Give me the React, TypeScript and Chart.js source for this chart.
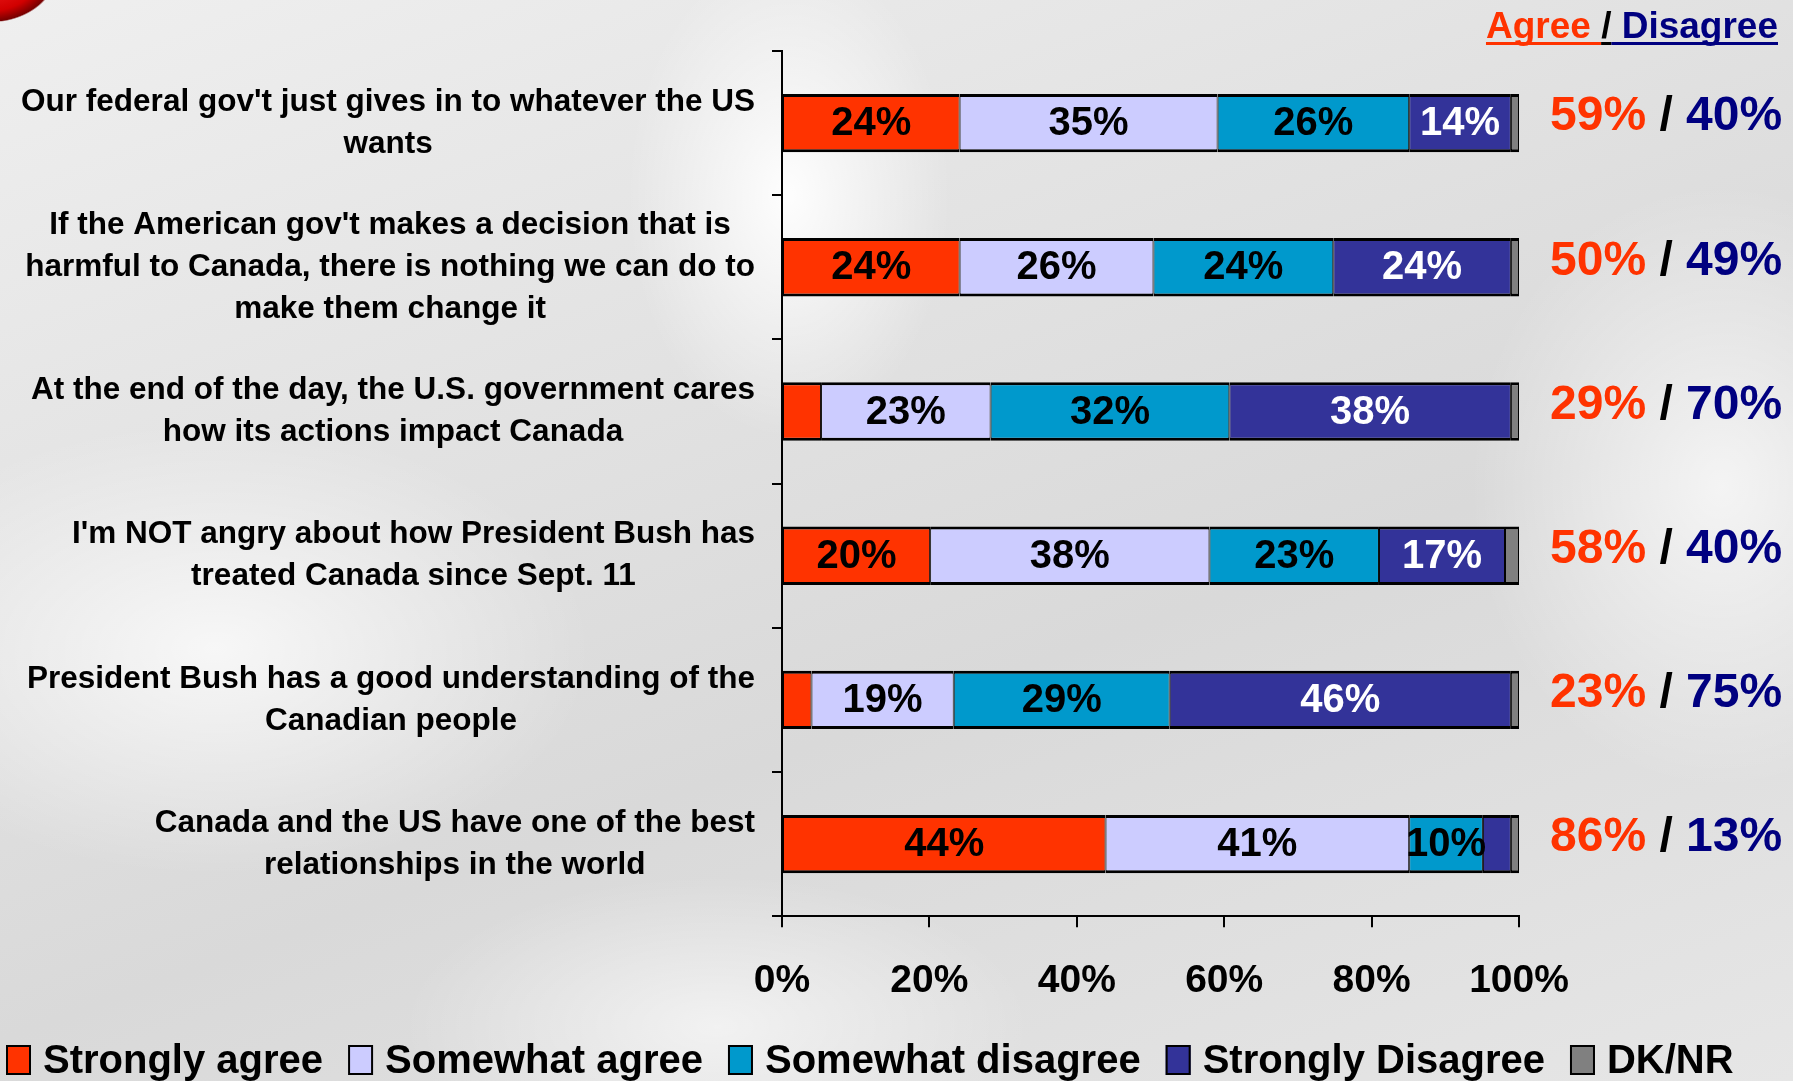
import React, { useEffect, useRef } from "react";
import { Chart, registerables } from "chart.js";

Chart.register(...registerables);

const FONT = "'Liberation Sans', Arial, Helvetica, sans-serif";

// ---------- DATA ----------
const categoryLines: string[][] = [
  ["Our federal gov't just gives in to whatever the US", "wants"],
  [
    "If the American gov't makes a decision that is",
    "harmful to Canada, there is nothing we can do to",
    "make them change it",
  ],
  ["At the end of the day, the U.S. government cares", "how its actions impact Canada"],
  ["I'm NOT angry about how President Bush has", "treated Canada since Sept. 11"],
  ["President Bush has a good understanding of the", "Canadian people"],
  ["Canada and the US have one of the best", "relationships in the world"],
];

const seriesNames = [
  "Strongly agree",
  "Somewhat agree",
  "Somewhat disagree",
  "Strongly Disagree",
  "DK/NR",
];

const stronglyAgree = [24.1, 24.1, 5.3, 20.1, 4.0, 43.9];
const somewhatAgree = [35.0, 26.3, 23.0, 37.9, 19.3, 41.2];
const somewhatDisagree = [26.0, 24.4, 32.4, 23.0, 29.3, 10.0];
const stronglyDisagree = [13.8, 24.1, 38.2, 17.1, 46.3, 3.8];
const dkNr = [1.1, 1.1, 1.1, 1.9, 1.1, 1.1];

const agreeTotals = [59, 50, 29, 58, 23, 86];
const disagreeTotals = [40, 49, 70, 40, 75, 13];

const xTickValues = [0, 20, 40, 60, 80, 100];

const titleParts = ["Agree ", "/", " Disagree"];

// ---------- STYLE ----------
const seriesColors = ["#FF3300", "#CCCCFF", "#0099CC", "#333399", "#808080"];
const segLabelColors = ["#000000", "#000000", "#000000", "#FFFFFF", "#000000"];
const AGREE_COLOR = "#FF3300";
const DISAGREE_COLOR = "#000080";
const W = 1793;
const H = 1081;

const overlayPlugin = {
  id: "overlay",
  afterDatasetsDraw(chart: any) {
    const ctx: CanvasRenderingContext2D = chart.ctx;
    ctx.save();
    ctx.font = `bold 40px ${FONT}`;
    ctx.textAlign = "center";
    ctx.textBaseline = "middle";
    chart.data.datasets.forEach((ds: any, di: number) => {
      const meta = chart.getDatasetMeta(di);
      meta.data.forEach((bar: any, i: number) => {
        const v = ds.data[i];
        if (v < 8) return;
        const cx = (bar.x + bar.base) / 2;
        ctx.fillStyle = segLabelColors[di];
        ctx.fillText(Math.round(v) + "%", cx, bar.y + 1);
      });
    });
    ctx.restore();
  },
  afterDraw(chart: any) {
    const ctx: CanvasRenderingContext2D = chart.ctx;
    const area = chart.chartArea;
    const yScale = chart.scales.y;
    ctx.save();

    // category labels (each label centred on itself, right edge near axis)
    ctx.font = `bold 31.5px ${FONT}`;
    ctx.fillStyle = "#000";
    ctx.textAlign = "center";
    ctx.textBaseline = "middle";
    const lh = 42;
    categoryLines.forEach((lines, i) => {
      const yc = yScale.getPixelForValue(i);
      const maxW = Math.max(...lines.map((l) => ctx.measureText(l).width));
      const cx = area.left - 27 - maxW / 2;
      const y0 = yc - ((lines.length - 1) * lh) / 2;
      lines.forEach((l, k) => ctx.fillText(l, cx, y0 + k * lh));
    });

    // agree / disagree totals
    ctx.font = `bold 48px ${FONT}`;
    ctx.textAlign = "left";
    ctx.textBaseline = "middle";
    categoryLines.forEach((_, i) => {
      const yc = yScale.getPixelForValue(i) - 6;
      let x = area.right + 31;
      const a = agreeTotals[i] + "%";
      const s = " / ";
      const d = disagreeTotals[i] + "%";
      ctx.fillStyle = AGREE_COLOR;
      ctx.fillText(a, x, yc);
      x += ctx.measureText(a).width;
      ctx.fillStyle = "#000";
      ctx.fillText(s, x, yc);
      x += ctx.measureText(s).width;
      ctx.fillStyle = DISAGREE_COLOR;
      ctx.fillText(d, x, yc);
    });

    // title "Agree / Disagree" underlined, right aligned
    ctx.font = `bold 37px ${FONT}`;
    ctx.textBaseline = "alphabetic";
    ctx.textAlign = "left";
    const tColors = [AGREE_COLOR, "#000", DISAGREE_COLOR];
    const widths = titleParts.map((p) => ctx.measureText(p).width);
    const total = widths.reduce((a, b) => a + b, 0);
    let tx = 1778 - total;
    const base = 38;
    titleParts.forEach((p, k) => {
      ctx.fillStyle = tColors[k];
      ctx.fillText(p, tx, base);
      ctx.fillRect(tx, base + 4, widths[k], 3);
      tx += widths[k];
    });

    // legend
    ctx.font = `bold 40px ${FONT}`;
    ctx.textBaseline = "alphabetic";
    let lx = 6;
    const boxTop = 1045;
    seriesNames.forEach((name, k) => {
      ctx.fillStyle = seriesColors[k];
      ctx.fillRect(lx, boxTop, 25, 30);
      ctx.strokeStyle = "#000";
      ctx.lineWidth = 2;
      ctx.strokeRect(lx + 1, boxTop + 1, 23, 28);
      ctx.fillStyle = "#000";
      const tStart = lx + 37;
      ctx.fillText(name, tStart, 1073);
      lx = tStart + ctx.measureText(name).width + 25;
    });

    ctx.restore();
  },
};

export default function App() {
  const ref = useRef<HTMLCanvasElement | null>(null);

  useEffect(() => {
    if (!ref.current) return;
    const seriesValues = [stronglyAgree, somewhatAgree, somewhatDisagree, stronglyDisagree, dkNr];
    const chart = new Chart(ref.current, {
      type: "bar",
      data: {
        labels: categoryLines.map((l) => l.join(" ")),
        datasets: seriesNames.map((name, k) => ({
          label: name,
          data: seriesValues[k],
          backgroundColor: seriesColors[k],
          borderColor: "#000",
          borderWidth: { top: 3, bottom: 3, left: 1, right: 1 },
          borderSkipped: false,
          barPercentage: 0.405,
          categoryPercentage: 1,
        })),
      },
      options: {
        indexAxis: "y",
        responsive: false,
        maintainAspectRatio: false,
        animation: false,
        events: [],
        layout: { padding: { left: 772, right: 274, top: 51, bottom: 45 } },
        plugins: {
          legend: { display: false },
          tooltip: { enabled: false },
          title: { display: false },
        },
        scales: {
          x: {
            stacked: true,
            min: 0,
            max: 100,
            afterBuildTicks: (s: any) => {
              s.ticks = xTickValues.map((v) => ({ value: v }));
            },
            ticks: {
              callback: (v: any) => v + "%",
              font: { family: FONT, size: 39, weight: "bold" },
              color: "#000",
              padding: 31,
              maxRotation: 0,
              autoSkip: false,
            },
            grid: {
              drawOnChartArea: false,
              drawTicks: true,
              tickLength: 11,
              color: "#000",
              lineWidth: 2,
            },
            border: { display: true, color: "#000", width: 2 },
          },
          y: {
            stacked: true,
            offset: true,
            ticks: { display: false },
            grid: {
              offset: true,
              drawOnChartArea: false,
              drawTicks: true,
              tickLength: 10,
              color: "#000",
              lineWidth: 2,
            },
            border: { display: true, color: "#000", width: 2 },
          },
        },
      },
      plugins: [overlayPlugin],
    } as any);
    return () => chart.destroy();
  }, []);

  return (
    <div
      style={{
        position: "fixed",
        left: 0,
        top: 0,
        width: W,
        height: H,
        overflow: "hidden",
        background:
          "radial-gradient(ellipse 12% 30% at 44% 18%, rgba(255,255,255,0.95), rgba(255,255,255,0) 75%)," +
          "radial-gradient(ellipse 30% 30% at 12% 60%, rgba(255,255,255,0.75), rgba(255,255,255,0) 70%)," +
          "radial-gradient(ellipse 20% 40% at 96% 45%, rgba(255,255,255,0.7), rgba(255,255,255,0) 70%)," +
          "radial-gradient(ellipse 25% 20% at 40% 95%, rgba(255,255,255,0.6), rgba(255,255,255,0) 70%)," +
          "linear-gradient(160deg, #efefef 0%, #e2e2e2 35%, #d9d9d9 60%, #e6e6e6 100%)",
      }}
    >
      <div
        style={{
          position: "absolute",
          left: -40,
          top: -48,
          width: 95,
          height: 70,
          borderRadius: "50%",
          background: "radial-gradient(ellipse at 30% 30%, #ff2a2a 0%, #d10000 55%, #700 70%, rgba(0,0,0,0) 72%)",
        }}
      />
      <canvas ref={ref} width={W} height={H} style={{ position: "absolute", left: 0, top: 0, display: "block" }} />
    </div>
  );
}
